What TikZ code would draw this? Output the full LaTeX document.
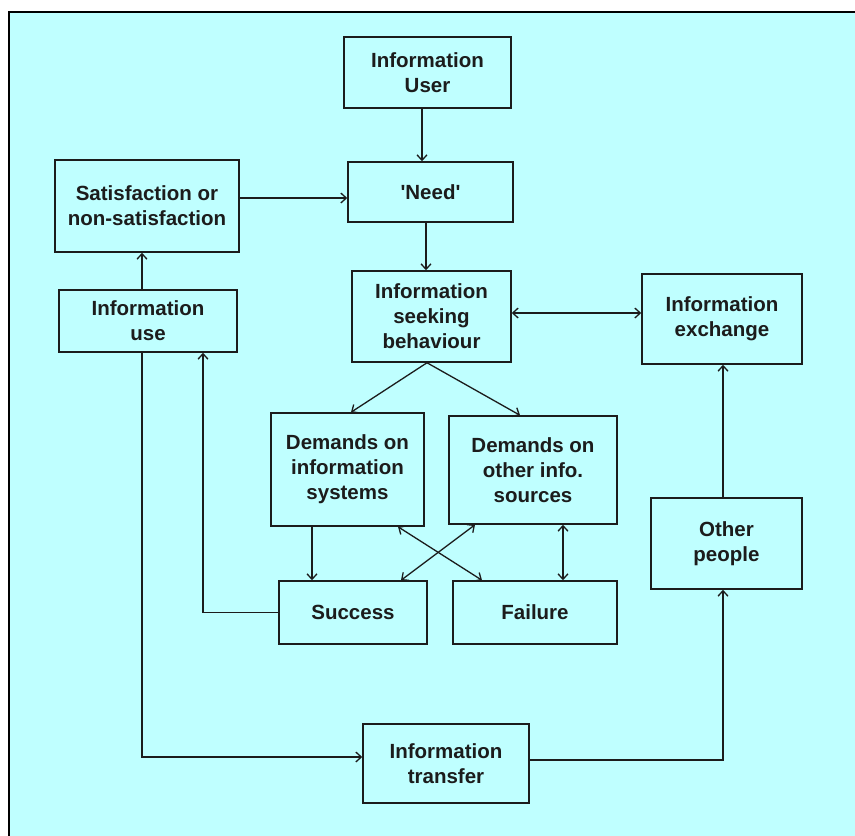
\documentclass[tikz,border=0pt]{standalone}
\usepackage{fontspec}
\setmainfont{Liberation Sans}
\usetikzlibrary{arrows.meta,calc}
\definecolor{paper}{RGB}{191,255,255}
\definecolor{ink}{RGB}{28,28,28}

\begin{document}
\begin{tikzpicture}[x=1pt, y=-1pt,
  box/.style={draw=ink, rectangle, line width=1.5pt, align=center, inner sep=2pt, text=ink,
    font=\bfseries\fontsize{20.5}{25}\selectfont},
  link/.style={draw=ink, line width=1.3pt},
  >={Straight Barb[length=5.5pt,width=10pt]}]
\useasboundingbox (0,0) rectangle (855,836);
\fill[paper] (9,12) rectangle (855,836);
\draw[line width=2.5pt] (9,836) -- (9,12) -- (855,12);

\node[box, minimum width=167pt, minimum height=71pt] (user) at (427.5,72.5) {Information\\User};
\node[box, minimum width=165pt, minimum height=60pt] (need) at (430.5,192) {\textquotesingle Need\textquotesingle};
\node[box, minimum width=184pt, minimum height=92pt] (sat) at (147,206) {Satisfaction or\\non-satisfaction};
\node[box, minimum width=178pt, minimum height=62pt] (use) at (148,321) {Information\\use};
\node[box, minimum width=159pt, minimum height=91pt] (seek) at (431.5,316.5) {Information\\seeking\\behaviour};
\node[box, minimum width=160pt, minimum height=90pt] (exch) at (722,319) {Information\\exchange};
\node[box, minimum width=153pt, minimum height=113pt] (dis) at (347.5,469.5) {Demands on\\information\\systems};
\node[box, minimum width=168pt, minimum height=108pt] (dos) at (533,470) {Demands on\\other info.\\sources};
\node[box, minimum width=148pt, minimum height=63pt] (suc) at (353,612.5) {Success};
\node[box, minimum width=164pt, minimum height=63pt] (fail) at (535,612.5) {Failure};
\node[box, minimum width=151pt, minimum height=91pt] (other) at (726.5,543.5) {Other\\people};
\node[box, minimum width=166pt, minimum height=79pt] (trans) at (446,763.5) {Information\\transfer};

\draw[link, ->] ($(user.south)+(-5.5,0)$) -- ($(need.north)+(-8.5,0)$);
\draw[link, ->] ($(sat.east)+(0,-8)$) -- ($(need.west)+(0,6)$);
\draw[link, ->] ($(need.south)+(-4.5,0)$) -- ($(seek.north)+(-5.5,0)$);
\draw[link, <->] ($(seek.east)+(0,-3.5)$) -- ($(exch.west)+(0,-6)$);
\draw[link, ->] ($(seek.south)+(-4.5,0)$) -- ($(dis.north)+(3.5,0)$);
\draw[link, ->] ($(seek.south)+(-4.5,0)$) -- ($(dos.north)+(-13,0)$);
\draw[link, ->] ($(dis.south)+(-35.5,0)$) -- ($(suc.north)+(-41,0)$);
\draw[link, <->] ($(dis.south)+(50.5,0)$) -- ($(fail.north)+(-53,0)$);
\draw[link, <->] ($(dos.south)+(-58,0)$) -- ($(suc.north)+(48,0)$);
\draw[link, <->] ($(dos.south)+(30,0)$) -- ($(fail.north)+(28,0)$);
\draw[link, ->] (suc.west) -| ($(use.south)+(55,0)$);
\draw[link, ->] ($(use.north)+(-6,0)$) -- ($(sat.south)+(-5,0)$);
\draw[link, ->] ($(use.south)+(-6,0)$) |- ($(trans.west)+(0,-6.5)$);
\draw[link, ->] ($(trans.east)+(0,-3.5)$) -| ($(other.south)+(-3.5,0)$);
\draw[link, ->] ($(other.north)+(-3.5,0)$) -- ($(exch.south)+(1,0)$);
\end{tikzpicture}
\end{document}
